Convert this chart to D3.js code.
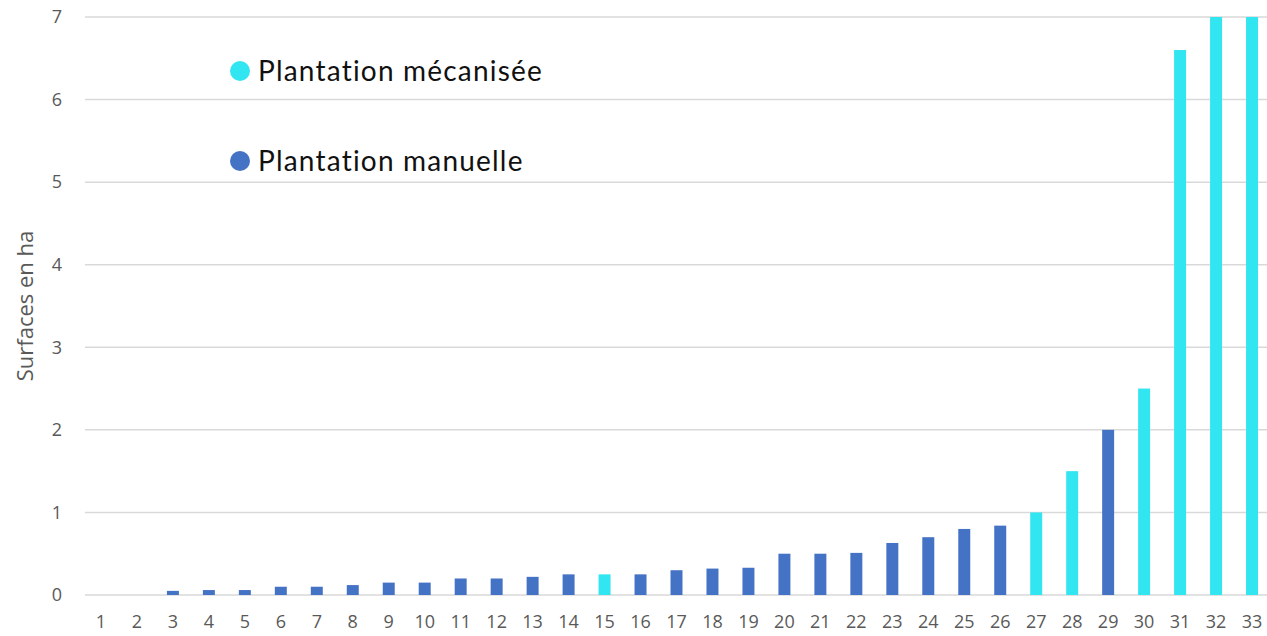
<!DOCTYPE html>
<html>
  <head>
    <meta charset="utf-8">
    <title>Surfaces en ha</title>
    <style>
      body { margin: 0; background: #fff; }
    </style>
  </head>
  <body>
    <script src="https://d3js.org/d3.v7.min.js"></script>
    <svg id="chart" width="1267" height="636"></svg>
    <script>
      // data
      const parcels = d3.range(1, 34).map(String)
      const surfaces = [0, 0, 0.05, 0.06, 0.06, 0.1, 0.1, 0.12, 0.15, 0.15, 0.2,
                        0.2, 0.22, 0.25, 0.25, 0.25, 0.3, 0.32, 0.33, 0.5, 0.5, 0.51,
                        0.63, 0.7, 0.8, 0.84, 1, 1.5, 2, 2.5, 6.6, 7, 7]
      const modes = ['man', 'man', 'man', 'man', 'man', 'man', 'man', 'man', 'man', 'man', 'man',
                     'man', 'man', 'man', 'meca', 'man', 'man', 'man', 'man', 'man', 'man', 'man',
                     'man', 'man', 'man', 'man', 'meca', 'meca', 'man', 'meca', 'meca', 'meca', 'meca']
      const yTicks = [0, 1, 2, 3, 4, 5, 6, 7]
      const legendLabels = ['Plantation mécanisée', 'Plantation manuelle']
      const legendModes = ['meca', 'man']

      const colors = {meca: '#31E6F0', man: '#4472C4'}

      const width = 1267, height = 636
      const margin = {top: 17, right: -3, bottom: 41, left: 83}

      const svg = d3.select('#chart')

      const x = d3.scaleBand()
        .domain(parcels)
        .range([margin.left, width - margin.right])
        .paddingInner(0.667)
        .paddingOuter(0.333)

      const y = d3.scaleLinear()
        .domain([0, 7])
        .range([height - margin.bottom, margin.top])

      // gridlines
      svg.append('g')
        .selectAll('line')
        .data(yTicks)
        .join('line')
        .attr('x1', margin.left + 2)
        .attr('x2', width)
        .attr('y1', d => y(d))
        .attr('y2', d => y(d))
        .attr('stroke', '#d9d9d9')
        .attr('stroke-width', 1.5)

      // y tick labels
      svg.append('g')
        .selectAll('text')
        .data(yTicks)
        .join('text')
        .attr('x', 62)
        .attr('y', d => y(d))
        .attr('dy', '0.35em')
        .attr('text-anchor', 'end')
        .attr('font-family', 'Open Sans, sans-serif')
        .attr('font-size', 18)
        .attr('fill', '#595959')
        .text(d => d)

      // x tick labels
      svg.append('g')
        .selectAll('text')
        .data(parcels)
        .join('text')
        .attr('x', d => x(d) + x.bandwidth() / 2)
        .attr('y', 628)
        .attr('text-anchor', 'middle')
        .attr('font-family', 'Open Sans, sans-serif')
        .attr('font-size', 18)
        .attr('fill', '#595959')
        .text(d => d)

      // bars
      svg.append('g')
        .selectAll('rect')
        .data(parcels)
        .join('rect')
        .attr('x', d => x(d))
        .attr('width', x.bandwidth())
        .attr('y', (d, i) => y(surfaces[i]))
        .attr('height', (d, i) => y(0) - y(surfaces[i]))
        .attr('fill', (d, i) => colors[modes[i]])

      // axis title
      svg.append('text')
        .attr('transform', 'translate(33,306) rotate(-90)')
        .attr('text-anchor', 'middle')
        .attr('font-family', 'Open Sans, sans-serif')
        .attr('font-size', 22)
        .attr('fill', '#595959')
        .text('Surfaces en ha')

      // legend
      const legend = svg.append('g')
        .selectAll('g')
        .data(legendLabels)
        .join('g')
        .attr('transform', (d, i) => 'translate(240,' + (71 + i * 90) + ')')

      legend.append('circle')
        .attr('r', 10)
        .attr('fill', (d, i) => colors[legendModes[i]])

      legend.append('text')
        .attr('x', 18)
        .attr('dy', '0.35em')
        .attr('font-family', 'Lato, sans-serif')
        .attr('font-size', 28)
        .attr('letter-spacing', 1.2)
        .attr('fill', '#111')
        .text(d => d)
    </script>
  </body>
</html>
